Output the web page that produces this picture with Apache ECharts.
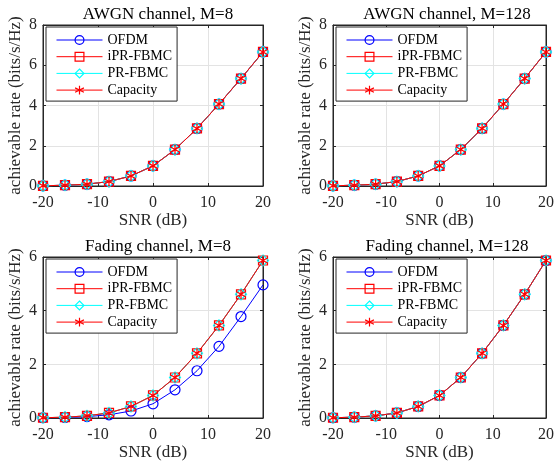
<!DOCTYPE html>
<html>
<head>
<meta charset="utf-8">
<script src="https://cdn.jsdelivr.net/npm/echarts@6/dist/echarts.min.js"></script>
<style>
  html, body { margin: 0; padding: 0; background: #fff; }
  #main { width: 557px; height: 468px; }
</style>
</head>
<body>
<div id="main"></div>
<script>
// SNR in dB (x axis of every panel)
const snr = [-20, -16, -12, -8, -4, 0, 4, 8, 12, 16, 20];

// AWGN channel, M=8
const awgn8Ofdm = [0.01, 0.04, 0.09, 0.22, 0.50, 1.00, 1.81, 2.86, 4.07, 5.34, 6.66];
const awgn8Ipr  = [0.01, 0.04, 0.09, 0.22, 0.50, 1.00, 1.81, 2.86, 4.07, 5.34, 6.66];
const awgn8Pr   = [0.01, 0.04, 0.09, 0.22, 0.50, 1.00, 1.81, 2.86, 4.07, 5.34, 6.66];
const awgn8Cap  = [0.01, 0.04, 0.09, 0.22, 0.50, 1.00, 1.81, 2.86, 4.07, 5.34, 6.66];

// AWGN channel, M=128
const awgn128Ofdm = [0.01, 0.04, 0.09, 0.22, 0.50, 1.00, 1.81, 2.86, 4.07, 5.34, 6.66];
const awgn128Ipr  = [0.01, 0.04, 0.09, 0.22, 0.50, 1.00, 1.81, 2.86, 4.07, 5.34, 6.66];
const awgn128Pr   = [0.01, 0.04, 0.09, 0.22, 0.50, 1.00, 1.81, 2.86, 4.07, 5.34, 6.66];
const awgn128Cap  = [0.01, 0.04, 0.09, 0.22, 0.50, 1.00, 1.81, 2.86, 4.07, 5.34, 6.66];

// Fading channel, M=8
const fade8Ofdm = [0.01, 0.02, 0.05, 0.12, 0.26, 0.53, 1.05, 1.76, 2.67, 3.78, 4.96];
const fade8Ipr  = [0.01, 0.03, 0.08, 0.19, 0.43, 0.84, 1.51, 2.41, 3.45, 4.61, 5.87];
const fade8Pr   = [0.01, 0.03, 0.08, 0.19, 0.43, 0.84, 1.51, 2.41, 3.45, 4.61, 5.87];
const fade8Cap  = [0.01, 0.03, 0.08, 0.19, 0.43, 0.84, 1.51, 2.41, 3.45, 4.61, 5.87];

// Fading channel, M=128
const fade128Ofdm = [0.01, 0.03, 0.08, 0.19, 0.43, 0.84, 1.51, 2.41, 3.45, 4.61, 5.87];
const fade128Ipr  = [0.01, 0.03, 0.08, 0.19, 0.43, 0.84, 1.51, 2.41, 3.45, 4.61, 5.87];
const fade128Pr   = [0.01, 0.03, 0.08, 0.19, 0.43, 0.84, 1.51, 2.41, 3.45, 4.61, 5.87];
const fade128Cap  = [0.01, 0.03, 0.08, 0.19, 0.43, 0.84, 1.51, 2.41, 3.45, 4.61, 5.87];

const seriesNames = ['OFDM', 'iPR-FBMC', 'PR-FBMC', 'Capacity'];
const titles = ['AWGN channel, M=8', 'AWGN channel, M=128', 'Fading channel, M=8', 'Fading channel, M=128'];
const yMaxes = [8, 8, 6, 6];
const panelData = [
    [awgn8Ofdm, awgn8Ipr, awgn8Pr, awgn8Cap],
    [awgn128Ofdm, awgn128Ipr, awgn128Pr, awgn128Cap],
    [fade8Ofdm, fade8Ipr, fade8Pr, fade8Cap],
    [fade128Ofdm, fade128Ipr, fade128Pr, fade128Cap]
];

const FONT = '"Liberation Serif", "Times New Roman", serif';
const AXIS_COLOR = '#262626';

// panel boxes (px)
const boxes = [
    { left: 43, top: 25, width: 220, height: 161 },
    { left: 333, top: 25, width: 218, height: 161 },
    { left: 43, top: 257, width: 220, height: 161 },
    { left: 333, top: 257, width: 218, height: 161 }
];

const asterisk = 'path://M5,0L5,10M0.67,2.5L9.33,7.5M0.67,7.5L9.33,2.5';
const styles = [
    { color: '#0000ff', symbol: 'circle', size: 10 },
    { color: '#ff0000', symbol: 'rect', size: 9 },
    { color: '#00ffff', symbol: 'diamond', size: 11 },
    { color: '#ff0000', symbol: asterisk, size: 10 }
];

const chart = echarts.init(document.getElementById('main'));

const grid = [], xAxis = [], yAxis = [], series = [], legend = [], title = [];

boxes.forEach((b, i) => {
    grid.push({
        left: b.left, top: b.top, width: b.width, height: b.height,
        show: true, borderColor: AXIS_COLOR, borderWidth: 1, backgroundColor: '#fff'
    });
    title.push({
        text: titles[i],
        left: b.left + b.width / 2,
        top: b.top - 24,
        textAlign: 'center',
        textStyle: { fontFamily: FONT, fontSize: 17, fontWeight: 'normal', color: '#000' }
    });

    xAxis.push({
        type: 'value', gridIndex: i, min: -20, max: 20, interval: 10,
        name: 'SNR (dB)', nameLocation: 'middle', nameGap: 24,
        nameTextStyle: { fontFamily: FONT, fontSize: 17, color: AXIS_COLOR },
        axisLine: { show: true, onZero: false, lineStyle: { color: AXIS_COLOR } },
        axisTick: { show: true, inside: true, length: 3, lineStyle: { color: AXIS_COLOR } },
        axisLabel: { fontFamily: FONT, fontSize: 16, color: AXIS_COLOR, margin: 9 },
        splitLine: { show: true, lineStyle: { color: '#e3e3e3' } }
    });
    // mirrored ticks on the top edge
    xAxis.push({
        type: 'value', gridIndex: i, min: -20, max: 20, interval: 10, position: 'top',
        axisLine: { show: true, onZero: false, lineStyle: { color: AXIS_COLOR } },
        axisTick: { show: true, inside: true, length: 3, lineStyle: { color: AXIS_COLOR } },
        axisLabel: { show: false }, splitLine: { show: false }
    });
    yAxis.push({
        type: 'value', gridIndex: i, min: 0, max: yMaxes[i], interval: 2,
        name: 'achievable rate (bits/s/Hz)', nameLocation: 'middle', nameGap: 19,
        nameTextStyle: { fontFamily: FONT, fontSize: 17, color: AXIS_COLOR },
        axisLine: { show: true, onZero: false, lineStyle: { color: AXIS_COLOR } },
        axisTick: { show: true, inside: true, length: 3, lineStyle: { color: AXIS_COLOR } },
        axisLabel: { fontFamily: FONT, fontSize: 16, color: AXIS_COLOR, margin: 6 },
        splitLine: { show: true, lineStyle: { color: '#e3e3e3' } }
    });
    // mirrored ticks on the right edge
    yAxis.push({
        type: 'value', gridIndex: i, min: 0, max: yMaxes[i], interval: 2, position: 'right',
        axisLine: { show: true, onZero: false, lineStyle: { color: AXIS_COLOR } },
        axisTick: { show: true, inside: true, length: 3, lineStyle: { color: AXIS_COLOR } },
        axisLabel: { show: false }, splitLine: { show: false }
    });

    panelData[i].forEach((vals, k) => {
        const s = styles[k];
        series.push({
            name: seriesNames[k],
            type: 'line',
            xAxisIndex: i * 2,
            yAxisIndex: i * 2,
            data: snr.map((x, j) => [x, vals[j]]),
            symbol: s.symbol,
            symbolSize: s.size,
            symbolKeepAspect: true,
            showAllSymbol: true,
            clip: false,
            animation: false,
            lineStyle: { color: s.color, width: 1 },
            itemStyle: { color: 'rgba(0,0,0,0)', borderColor: s.color, borderWidth: 1.2 },
            emphasis: { disabled: true }
        });
    });

    legend.push({
        left: b.left + 3,
        top: b.top + 2,
        orient: 'vertical',
        data: seriesNames,
        itemWidth: 46,
        itemHeight: 11,
        itemGap: 2.7,
        padding: [6, 5, 4, 10],
        borderColor: AXIS_COLOR,
        borderWidth: 1,
        backgroundColor: '#fff',
        selectedMode: false,
        lineStyle: { width: 1 },
        itemStyle: { borderWidth: 1.2 },
        textStyle: { fontFamily: FONT, fontSize: 14, color: '#000' }
    });
});

chart.setOption({
    animation: false,
    title: title,
    grid: grid,
    xAxis: xAxis,
    yAxis: yAxis,
    legend: legend,
    series: series
});
</script>
</body>
</html>
